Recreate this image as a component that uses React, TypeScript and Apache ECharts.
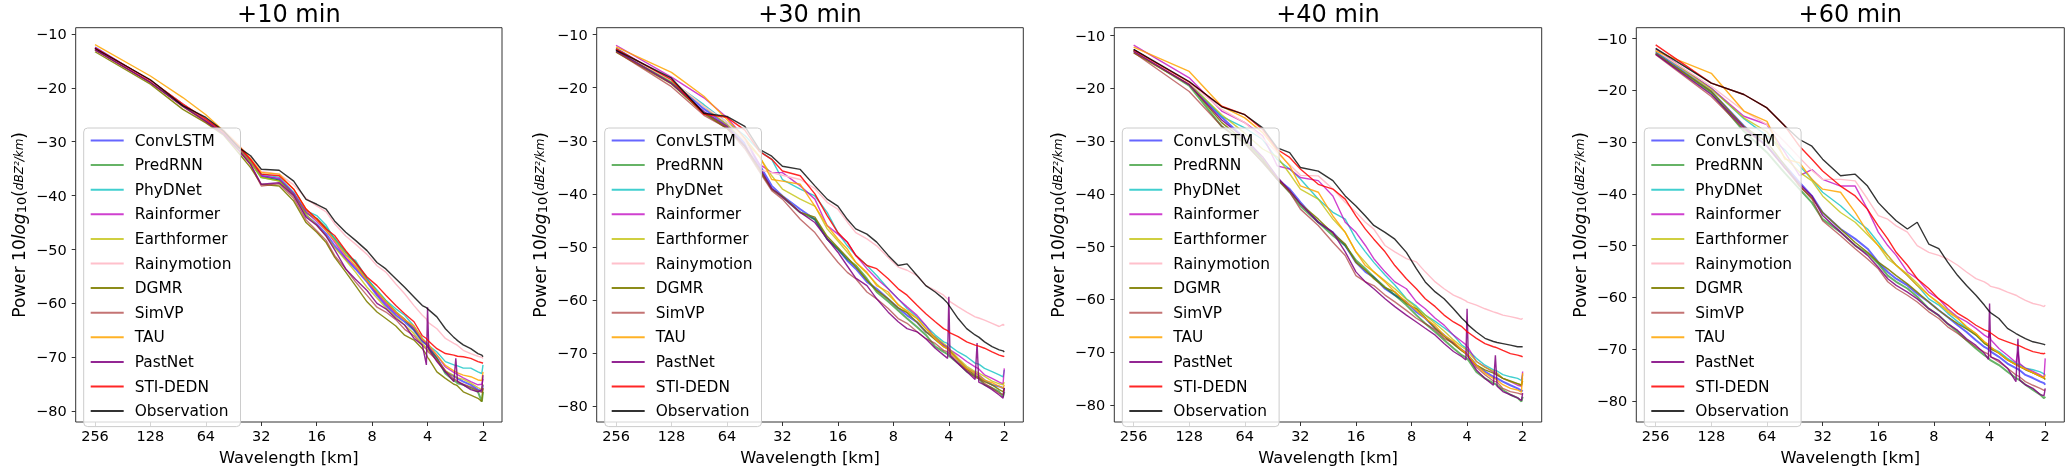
import React, { useEffect, useRef } from 'react';
import * as echarts from 'echarts';

// wavelength of each spectrum bin (256 / k km)
const WAVELENGTH_KM = [256, 128, 85.33, 64, 51.2, 42.67, 36.57, 32, 25.6, 21.33, 18.29, 16, 14.22, 12.8, 11.13, 9.85, 8.53, 7.53, 6.74, 5.95, 5.33, 4.74, 4.27, 4.06, 4, 3.94, 3.56, 3.2, 2.88, 2.81, 2.75, 2.56, 2.33, 2.13, 2.03, 2];

const HORIZONS = ['+10 min', '+30 min', '+40 min', '+60 min'];
const MODELS = ['ConvLSTM', 'PredRNN', 'PhyDNet', 'Rainformer', 'Earthformer', 'Rainymotion', 'DGMR', 'SimVP', 'TAU', 'PastNet', 'STI-DEDN', 'Observation'];
const X_TICKS = [256, 128, 64, 32, 16, 8, 4, 2];
const Y_TICKS = [-80, -70, -60, -50, -40, -30, -20, -10];

// +10 min
const convlstm10 = [-12.5, -18.8, -23.2, -26.0, -28.3, -31.0, -33.6, -36.3, -37.0, -39.6, -43.7, -45.3, -47.1, -49.3, -51.7, -53.6, -56.0, -58.5, -60.4, -62.2, -63.4, -65.0, -67.1, -67.6, -68.0, -68.3, -70.2, -72.7, -73.5, -73.7, -73.9, -74.5, -75.1, -76.0, -76.3, -75.1];
const predrnn10 = [-12.8, -18.9, -23.3, -26.1, -28.3, -31.2, -33.8, -36.6, -37.2, -39.8, -43.2, -44.3, -46.0, -48.0, -50.5, -52.5, -55.5, -57.8, -59.6, -61.6, -63.0, -64.8, -66.8, -67.5, -68.0, -68.2, -70.2, -73.0, -74.3, -74.5, -74.8, -75.1, -75.7, -76.4, -78.2, -76.4];
const phydnet10 = [-12.7, -18.7, -23.0, -26.0, -28.2, -31.0, -33.5, -36.0, -36.6, -39.4, -42.8, -43.7, -45.5, -48.0, -51.1, -52.0, -55.4, -57.5, -59.4, -61.0, -62.2, -64.2, -66.5, -67.3, -67.6, -67.8, -69.0, -70.8, -71.4, -71.5, -71.6, -72.0, -72.0, -72.7, -73.0, -71.4];
const rainformer10 = [-12.6, -18.7, -23.0, -26.0, -28.3, -31.0, -33.5, -36.3, -36.8, -39.6, -43.0, -44.8, -46.5, -48.6, -51.5, -53.2, -55.8, -58.2, -60.0, -61.8, -63.0, -64.6, -66.8, -67.5, -67.9, -68.1, -69.6, -71.8, -72.8, -73.0, -73.2, -73.8, -74.5, -75.1, -75.0, -74.0];
const earthformer10 = [-12.9, -19.0, -23.2, -26.2, -28.5, -31.3, -33.8, -36.6, -37.3, -40.0, -43.5, -45.5, -47.5, -49.6, -52.0, -54.2, -57.0, -59.0, -60.8, -62.5, -64.0, -65.6, -67.5, -68.2, -68.6, -68.8, -70.5, -72.5, -73.4, -73.6, -73.8, -74.1, -74.8, -75.6, -76.0, -75.0];
const rainymotion10 = [-12.8, -18.7, -23.0, -25.8, -27.8, -30.5, -33.0, -35.5, -36.0, -38.0, -40.5, -41.9, -43.0, -45.2, -47.5, -49.0, -50.9, -53.0, -54.2, -56.4, -58.2, -60.4, -62.2, -62.9, -63.4, -63.6, -64.7, -66.5, -67.4, -67.6, -67.8, -68.7, -69.3, -69.8, -70.0, -70.2];
const dgmr10 = [-13.3, -19.3, -24.0, -26.5, -28.8, -32.0, -34.8, -37.9, -38.2, -41.0, -45.0, -46.8, -48.7, -51.4, -54.2, -56.7, -59.7, -61.6, -62.8, -64.2, -65.9, -66.8, -68.4, -69.5, -70.0, -70.3, -72.7, -73.9, -75.0, -75.1, -75.3, -76.4, -77.0, -77.6, -78.2, -75.7];
const simvp10 = [-13.0, -19.0, -23.5, -26.3, -28.6, -31.5, -34.3, -38.2, -37.8, -40.5, -44.5, -46.5, -48.3, -51.1, -53.6, -56.0, -58.5, -60.7, -61.6, -63.0, -64.8, -66.0, -67.8, -68.5, -68.9, -69.1, -70.5, -72.5, -74.0, -74.2, -74.4, -75.0, -75.5, -76.2, -76.5, -75.8];
const tau10 = [-12.0, -17.8, -21.8, -25.0, -28.0, -30.6, -33.2, -35.7, -36.0, -38.8, -42.5, -44.5, -46.5, -48.3, -51.0, -53.0, -55.8, -57.8, -59.6, -61.6, -63.0, -64.2, -66.6, -67.2, -67.5, -67.7, -69.6, -71.5, -72.5, -72.7, -72.9, -73.3, -73.6, -74.2, -74.3, -72.7];
const pastnet10 = [-12.9, -19.0, -23.4, -26.2, -28.6, -31.5, -34.2, -37.9, -37.6, -40.0, -44.0, -45.5, -47.5, -50.0, -53.6, -55.5, -57.6, -60.0, -61.0, -62.8, -64.0, -66.5, -67.7, -71.4, -60.7, -68.5, -70.8, -72.7, -74.5, -70.2, -74.5, -75.1, -76.0, -76.4, -76.0, -73.3];
const stidedn10 = [-12.6, -18.6, -23.0, -25.8, -28.2, -30.8, -33.3, -36.0, -36.3, -38.8, -42.5, -44.3, -46.2, -47.4, -50.2, -52.4, -55.1, -56.7, -58.5, -60.4, -61.9, -63.4, -66.0, -66.5, -66.8, -67.0, -68.4, -69.3, -69.6, -69.7, -69.8, -69.9, -70.2, -70.8, -71.0, -71.1];
const observation10 = [-12.7, -18.5, -23.3, -25.5, -28.0, -31.0, -32.6, -35.1, -35.3, -37.3, -40.7, -41.6, -42.5, -44.7, -46.8, -48.3, -50.2, -52.4, -53.6, -55.4, -57.0, -58.8, -60.4, -60.8, -61.0, -61.2, -62.5, -64.7, -66.3, -66.6, -66.9, -67.7, -68.4, -69.3, -69.6, -69.9];

// +30 min
const convlstm30 = [-12.6, -18.8, -24.0, -27.0, -30.5, -34.5, -38.5, -40.4, -42.9, -44.8, -48.5, -50.4, -52.6, -54.1, -56.6, -57.9, -59.8, -61.5, -62.9, -64.2, -66.0, -67.0, -68.5, -69.0, -69.5, -69.7, -71.3, -72.9, -73.8, -74.0, -74.2, -75.1, -76.0, -76.3, -76.6, -76.5];
const predrnn30 = [-12.9, -19.0, -24.8, -27.6, -31.0, -35.4, -39.1, -40.6, -43.5, -44.8, -48.5, -50.4, -52.3, -53.5, -56.0, -58.5, -60.3, -62.0, -63.5, -65.1, -66.6, -68.8, -69.8, -70.2, -70.5, -70.7, -71.9, -73.5, -74.4, -74.6, -74.8, -76.0, -76.6, -77.3, -78.2, -77.3];
const phydnet30 = [-12.7, -18.8, -23.2, -26.5, -29.0, -31.9, -33.5, -37.3, -39.1, -40.4, -43.5, -47.3, -49.8, -51.6, -53.5, -55.4, -57.9, -59.8, -61.6, -63.2, -64.9, -66.6, -67.9, -68.2, -68.5, -68.7, -69.8, -70.7, -71.9, -72.0, -72.1, -72.9, -73.5, -74.1, -74.5, -73.2];
const rainformer30 = [-12.0, -18.0, -21.9, -25.6, -29.5, -34.4, -36.0, -36.0, -38.5, -41.0, -46.0, -47.6, -49.1, -51.6, -54.1, -56.0, -57.9, -59.8, -61.3, -62.9, -64.8, -67.3, -68.5, -68.8, -69.2, -69.4, -70.4, -71.6, -72.6, -72.8, -73.0, -74.1, -74.8, -75.5, -75.8, -72.9];
const earthformer30 = [-12.7, -18.8, -23.5, -27.0, -30.0, -33.0, -36.6, -39.1, -41.0, -42.3, -46.6, -48.9, -51.0, -52.9, -55.0, -57.0, -59.0, -60.8, -62.3, -63.5, -65.4, -67.0, -68.2, -68.8, -69.2, -69.4, -71.0, -72.5, -73.5, -73.6, -73.8, -74.4, -75.3, -75.8, -76.0, -75.5];
const rainymotion30 = [-12.8, -18.6, -23.5, -26.5, -30.0, -35.5, -36.0, -36.5, -37.3, -39.0, -41.6, -42.9, -45.3, -47.3, -48.5, -49.8, -52.0, -53.8, -54.4, -55.4, -57.3, -58.2, -59.1, -59.8, -60.0, -60.3, -61.3, -62.3, -63.2, -63.3, -63.4, -63.8, -64.4, -65.0, -64.6, -64.8];
const dgmr30 = [-13.3, -19.3, -24.8, -27.6, -31.0, -35.4, -39.1, -40.4, -43.5, -44.4, -48.0, -50.1, -52.0, -53.8, -56.3, -58.2, -59.8, -61.5, -62.4, -64.2, -66.0, -67.5, -68.8, -69.2, -69.5, -69.7, -71.3, -73.0, -74.2, -74.4, -74.6, -75.4, -76.0, -76.9, -77.3, -76.6];
const simvp30 = [-13.2, -19.8, -25.2, -27.6, -31.5, -35.8, -39.4, -41.0, -44.8, -47.3, -50.4, -52.9, -54.8, -56.0, -58.5, -59.8, -61.6, -63.5, -64.4, -66.0, -67.3, -68.2, -69.5, -69.8, -70.0, -70.2, -71.9, -73.2, -74.6, -74.7, -74.8, -75.7, -76.6, -77.6, -77.8, -76.6];
const tau30 = [-12.3, -17.1, -21.6, -26.0, -29.5, -32.9, -37.3, -37.6, -38.2, -42.3, -46.0, -48.5, -50.4, -52.9, -54.8, -57.3, -58.5, -61.0, -62.0, -63.5, -65.4, -67.3, -68.8, -69.2, -69.5, -69.8, -71.3, -72.9, -73.8, -74.0, -74.2, -75.1, -75.6, -76.3, -76.6, -76.0];
const pastnet30 = [-13.0, -19.2, -24.5, -27.3, -31.0, -35.0, -39.0, -40.6, -43.5, -45.4, -48.5, -51.0, -53.6, -55.9, -57.3, -59.8, -62.3, -64.1, -65.4, -66.0, -67.3, -69.1, -70.4, -71.0, -59.4, -70.5, -72.0, -73.5, -75.0, -68.1, -75.5, -76.0, -76.9, -77.9, -78.5, -76.6];
const stidedn30 = [-12.7, -18.5, -25.0, -25.6, -28.0, -32.0, -33.5, -35.7, -36.6, -40.0, -44.1, -47.3, -49.1, -51.6, -53.5, -54.1, -56.0, -57.9, -59.1, -61.0, -62.6, -64.1, -65.4, -65.8, -66.0, -66.2, -66.9, -67.9, -68.5, -68.6, -68.7, -69.1, -69.8, -70.4, -70.6, -70.7];
const observation30 = [-12.9, -18.2, -24.8, -25.4, -27.3, -31.6, -32.9, -34.8, -35.4, -38.5, -41.0, -42.3, -44.8, -46.6, -47.6, -49.1, -51.6, -53.5, -53.2, -55.4, -57.3, -58.5, -59.8, -60.6, -61.0, -61.3, -63.5, -65.4, -66.6, -66.8, -67.0, -67.9, -68.8, -69.4, -69.6, -69.8];

// +40 min
const convlstm40 = [-12.7, -19.2, -25.5, -29.5, -33.5, -37.2, -39.1, -41.6, -45.4, -47.3, -49.8, -53.0, -54.8, -55.8, -58.0, -59.2, -60.5, -62.4, -63.6, -65.5, -66.8, -68.3, -69.6, -70.2, -70.5, -70.7, -72.5, -73.7, -74.7, -74.9, -75.0, -75.6, -76.3, -76.9, -77.3, -77.5];
const predrnn40 = [-12.9, -19.5, -27.2, -30.3, -34.0, -37.2, -39.7, -42.3, -45.4, -47.9, -49.8, -52.6, -54.2, -55.8, -57.7, -59.2, -61.1, -63.0, -64.6, -66.2, -67.7, -69.3, -70.6, -71.0, -71.3, -71.5, -73.8, -75.0, -75.9, -76.1, -76.3, -77.2, -78.1, -78.7, -79.4, -78.5];
const phydnet40 = [-12.7, -19.0, -25.3, -27.5, -29.7, -33.5, -35.3, -37.2, -41.0, -43.5, -44.8, -48.6, -51.0, -53.0, -55.4, -57.3, -59.9, -61.3, -63.0, -64.2, -65.4, -66.8, -68.7, -69.2, -69.5, -69.7, -71.2, -72.5, -73.4, -73.5, -73.6, -74.3, -74.7, -75.0, -75.4, -74.3];
const rainformer40 = [-11.8, -18.0, -24.3, -26.5, -29.0, -34.7, -35.3, -36.9, -37.5, -40.4, -45.4, -47.3, -49.8, -52.3, -54.8, -56.7, -58.0, -60.5, -61.8, -63.6, -64.9, -66.8, -68.0, -68.6, -69.0, -69.2, -71.8, -72.8, -73.8, -74.0, -74.2, -75.0, -75.6, -76.3, -76.5, -73.7];
const earthformer40 = [-12.8, -19.2, -25.0, -28.5, -31.5, -33.0, -36.2, -39.1, -41.0, -44.8, -47.3, -51.0, -53.0, -54.8, -56.5, -58.0, -60.0, -61.6, -63.0, -64.6, -66.0, -67.7, -69.0, -69.5, -69.8, -70.0, -71.8, -72.9, -73.6, -73.8, -74.0, -75.0, -75.6, -76.0, -76.2, -75.0];
const rainymotion40 = [-12.8, -19.0, -24.0, -26.5, -29.5, -32.2, -34.5, -36.5, -36.6, -39.1, -41.6, -43.5, -45.4, -46.7, -49.8, -51.0, -52.3, -52.9, -54.8, -56.7, -58.0, -59.2, -59.9, -60.3, -60.5, -60.6, -61.1, -61.8, -62.4, -62.5, -62.6, -63.0, -63.3, -63.6, -63.8, -63.6];
const dgmr40 = [-13.3, -19.3, -26.5, -30.0, -33.5, -37.2, -39.4, -41.9, -44.8, -47.5, -49.5, -53.0, -54.5, -56.1, -57.8, -58.6, -60.8, -61.8, -63.5, -65.5, -67.0, -68.5, -69.8, -70.3, -70.6, -70.8, -72.5, -73.4, -74.0, -74.2, -74.4, -75.0, -75.5, -76.0, -76.3, -75.5];
const simvp40 = [-13.2, -20.6, -27.2, -30.5, -34.0, -37.2, -39.7, -42.9, -46.0, -49.2, -51.7, -55.5, -56.7, -57.4, -59.2, -60.5, -62.1, -63.6, -64.6, -65.8, -67.4, -68.3, -69.6, -70.1, -70.5, -70.7, -72.9, -74.3, -75.5, -75.6, -75.7, -76.9, -77.5, -77.8, -78.0, -77.8];
const tau40 = [-12.2, -16.8, -23.4, -25.6, -28.4, -31.9, -34.7, -38.5, -39.7, -44.2, -47.3, -51.0, -53.6, -54.8, -56.7, -58.6, -60.5, -62.1, -63.6, -65.0, -66.8, -68.0, -69.6, -70.2, -70.5, -70.7, -72.5, -74.0, -75.0, -75.1, -75.3, -76.2, -76.9, -77.2, -77.6, -74.0];
const pastnet40 = [-13.0, -19.3, -26.0, -29.5, -33.0, -36.8, -39.4, -41.9, -45.4, -47.3, -51.0, -54.8, -56.7, -58.0, -59.9, -61.4, -63.0, -64.3, -65.5, -66.8, -68.4, -69.9, -70.9, -71.5, -61.8, -71.0, -73.4, -75.0, -76.3, -70.6, -76.5, -77.5, -78.1, -78.7, -79.2, -77.8];
const stidedn40 = [-12.7, -18.8, -23.4, -25.0, -27.8, -31.6, -33.1, -35.3, -38.2, -39.1, -41.0, -44.2, -46.7, -48.6, -51.0, -53.6, -56.1, -58.0, -59.9, -61.4, -63.0, -64.3, -65.2, -65.9, -66.2, -66.3, -67.4, -68.4, -69.0, -69.1, -69.2, -69.7, -70.3, -70.6, -70.8, -70.9];
const observation40 = [-12.6, -18.7, -23.5, -25.0, -27.5, -31.3, -32.2, -35.0, -35.7, -37.5, -40.4, -42.3, -44.2, -46.0, -47.3, -48.6, -51.1, -54.2, -56.7, -58.6, -59.9, -61.8, -63.6, -64.3, -64.6, -64.9, -66.2, -67.4, -68.0, -68.1, -68.2, -68.4, -68.7, -69.0, -69.0, -69.0];

// +60 min
const convlstm60 = [-12.5, -20.2, -26.9, -30.8, -34.5, -37.8, -40.4, -43.6, -46.8, -48.7, -50.6, -53.2, -55.1, -56.4, -57.7, -59.3, -60.9, -62.5, -63.8, -65.4, -66.7, -68.3, -69.6, -70.0, -70.3, -70.5, -71.5, -72.8, -73.7, -73.9, -74.1, -75.0, -75.6, -76.3, -76.6, -76.9];
const predrnn60 = [-12.8, -20.5, -27.9, -32.0, -36.0, -39.1, -41.7, -44.9, -47.4, -50.0, -51.5, -53.5, -55.8, -57.0, -58.3, -59.9, -62.2, -63.5, -65.1, -66.7, -68.3, -69.9, -71.2, -71.7, -72.0, -72.2, -73.1, -74.4, -75.6, -75.8, -76.0, -76.9, -77.9, -78.8, -79.5, -79.2];
const phydnet60 = [-12.3, -19.6, -25.5, -28.8, -31.5, -34.6, -37.2, -39.7, -42.3, -44.9, -46.8, -49.4, -51.9, -53.8, -55.8, -57.7, -60.3, -61.5, -63.1, -64.7, -65.9, -67.3, -68.9, -69.4, -69.6, -69.8, -70.5, -71.8, -72.8, -72.9, -73.0, -73.7, -74.0, -74.4, -74.8, -75.0];
const rainformer60 = [-12.0, -19.6, -25.0, -26.6, -32.0, -36.5, -35.3, -37.2, -38.5, -38.5, -43.0, -47.4, -50.0, -51.9, -55.1, -56.4, -59.0, -60.3, -62.2, -63.8, -64.7, -66.0, -67.3, -67.8, -66.7, -68.2, -69.9, -71.2, -72.6, -70.5, -72.8, -73.7, -74.3, -75.0, -75.5, -71.8];
const earthformer60 = [-12.2, -19.8, -25.3, -28.0, -33.0, -35.8, -37.5, -40.4, -43.6, -45.5, -47.9, -50.0, -52.6, -53.8, -55.5, -57.3, -59.6, -61.0, -62.5, -64.0, -65.7, -67.0, -68.6, -69.2, -69.5, -69.7, -70.8, -72.1, -73.0, -73.1, -73.3, -73.9, -74.6, -75.2, -75.6, -75.8];
const rainymotion60 = [-12.3, -19.2, -24.0, -26.6, -30.0, -33.0, -35.5, -37.2, -37.2, -37.5, -41.0, -44.2, -44.9, -46.2, -47.4, -50.0, -51.3, -51.9, -52.6, -53.8, -55.1, -56.4, -57.0, -57.5, -57.7, -57.9, -58.3, -59.0, -59.6, -59.8, -60.0, -60.6, -61.2, -61.5, -61.8, -61.5];
const dgmr60 = [-12.9, -20.2, -27.0, -30.0, -34.5, -38.5, -40.8, -43.6, -46.8, -49.4, -51.3, -53.2, -54.5, -55.8, -57.4, -59.0, -60.9, -62.5, -63.8, -65.1, -66.1, -67.3, -68.9, -69.4, -69.8, -70.0, -70.8, -72.1, -73.0, -73.2, -73.4, -74.0, -74.6, -75.3, -75.6, -75.9];
const simvp60 = [-13.1, -21.2, -27.5, -30.8, -35.0, -38.5, -41.0, -45.2, -48.1, -50.6, -52.6, -54.5, -57.0, -58.3, -59.6, -60.9, -62.8, -64.1, -65.7, -67.0, -68.3, -69.6, -70.6, -71.0, -71.3, -71.5, -72.5, -73.7, -75.0, -75.2, -75.4, -76.3, -77.0, -77.6, -78.0, -77.9];
const tau60 = [-12.4, -16.7, -24.0, -26.0, -33.3, -34.0, -37.2, -39.1, -39.7, -43.6, -47.4, -50.0, -51.9, -53.8, -55.8, -57.7, -59.6, -61.2, -62.8, -64.1, -65.7, -67.0, -68.6, -69.1, -69.4, -69.6, -70.8, -72.1, -73.0, -73.2, -73.4, -73.9, -74.6, -75.3, -75.6, -75.0];
const pastnet60 = [-13.0, -20.8, -27.2, -30.8, -35.0, -38.1, -40.4, -44.2, -47.4, -50.0, -51.9, -54.2, -56.4, -57.7, -59.0, -60.3, -62.2, -63.5, -65.1, -66.4, -68.0, -69.3, -70.8, -72.0, -61.2, -71.5, -72.2, -73.7, -76.3, -68.0, -76.0, -76.9, -77.6, -78.8, -79.0, -77.6];
const stidedn60 = [-11.2, -18.6, -20.8, -23.4, -26.9, -30.8, -33.3, -35.6, -38.5, -40.4, -43.0, -46.2, -48.7, -51.3, -53.8, -56.4, -58.3, -60.3, -61.5, -63.1, -64.1, -65.4, -66.3, -66.6, -66.7, -66.9, -68.0, -68.6, -69.2, -69.3, -69.4, -69.9, -70.5, -70.8, -70.9, -70.8];
const observation60 = [-11.9, -18.6, -20.8, -23.4, -26.9, -29.5, -30.8, -33.3, -36.5, -36.2, -38.5, -41.7, -43.6, -45.2, -46.8, -45.5, -49.7, -50.6, -53.2, -55.8, -57.7, -59.6, -61.5, -62.5, -62.8, -63.0, -64.1, -66.0, -67.0, -67.2, -67.4, -68.0, -68.6, -68.9, -69.1, -69.2];

const SPECTRA = [
  [convlstm10, predrnn10, phydnet10, rainformer10, earthformer10, rainymotion10, dgmr10, simvp10, tau10, pastnet10, stidedn10, observation10],
  [convlstm30, predrnn30, phydnet30, rainformer30, earthformer30, rainymotion30, dgmr30, simvp30, tau30, pastnet30, stidedn30, observation30],
  [convlstm40, predrnn40, phydnet40, rainformer40, earthformer40, rainymotion40, dgmr40, simvp40, tau40, pastnet40, stidedn40, observation40],
  [convlstm60, predrnn60, phydnet60, rainformer60, earthformer60, rainymotion60, dgmr60, simvp60, tau60, pastnet60, stidedn60, observation60],
];

const COLORS = [
  'rgba(0,0,255,0.6)', 'rgba(0,128,0,0.6)', 'rgba(0,191,191,0.75)', 'rgba(191,0,191,0.75)',
  'rgba(191,191,0,0.75)', 'rgba(255,192,203,1)', 'rgba(128,128,0,0.9)', 'rgba(165,42,42,0.65)',
  'rgba(255,165,0,0.85)', 'rgba(128,0,128,0.85)', 'rgba(255,0,0,0.85)', 'rgba(0,0,0,0.8)',
];
const WIDTHS = [2, 2, 1.4, 1.4, 1.4, 1.4, 1.4, 1.4, 1.4, 1.4, 1.4, 1.4];

// panel frames in page pixels
const GRID_LEFT = [75.7, 596.7, 1114.3, 1636.3];
const GRID_WIDTH = [426.3, 426.6, 427.4, 428];
const GRID_TOP = 27.7;
const GRID_HEIGHT = 396.3;
const Y_RANGE = [[-82.0, -8.84], [-83.0, -8.69], [-83.27, -8.5], [-84.1, -7.89]];

const FONT = 'DejaVu Sans';

const App: React.FC = () => {
  const chartRef = useRef<HTMLDivElement>(null);

  useEffect(() => {
    if (!chartRef.current) return;
    const chart = echarts.init(chartRef.current, null, { renderer: 'svg' });
    const panels = [0, 1, 2, 3];

    const option = {
      animation: false,
      title: panels.map((p) => ({
        text: HORIZONS[p],
        left: GRID_LEFT[p] + GRID_WIDTH[p] / 2,
        top: 2,
        textAlign: 'center',
        padding: 0,
        textStyle: { fontSize: 24, fontWeight: 'normal', color: '#000', fontFamily: FONT },
      })),
      grid: panels.map((p) => ({
        left: GRID_LEFT[p],
        top: GRID_TOP,
        width: GRID_WIDTH[p],
        height: GRID_HEIGHT,
        show: true,
        borderColor: '#333',
        borderWidth: 1,
        backgroundColor: 'transparent',
      })),
      xAxis: panels.map((p) => ({
        type: 'log',
        logBase: 2,
        gridIndex: p,
        inverse: true,
        min: 1.577,
        max: 325.9,
        axisLine: { show: false },
        splitLine: { show: false },
        axisTick: { show: true, length: 4, lineStyle: { color: '#333' }, customValues: X_TICKS },
        axisLabel: {
          customValues: X_TICKS,
          margin: 6,
          fontSize: 14.5,
          color: '#000',
          fontFamily: FONT,
          formatter: (v: number) => String(Math.round(v)),
        },
        name: 'Wavelength [km]',
        nameLocation: 'middle',
        nameGap: 27,
        nameTextStyle: { fontSize: 16.3, color: '#000', fontFamily: FONT },
      })),
      yAxis: panels.map((p) => ({
        type: 'value',
        gridIndex: p,
        min: Y_RANGE[p][0],
        max: Y_RANGE[p][1],
        axisLine: { show: false },
        splitLine: { show: false },
        axisTick: { show: true, length: 4, lineStyle: { color: '#333' }, customValues: Y_TICKS },
        axisLabel: {
          customValues: Y_TICKS,
          margin: 9,
          fontSize: 14.5,
          color: '#000',
          fontFamily: FONT,
          formatter: (v: number) => (v < 0 ? '\u2212' + Math.abs(v) : String(v)),
        },
        name: '{p|Power 10}{i|log}{s|10}{p|(}{f|dBZ\u00b2/km}{p|)}',
        nameLocation: 'middle',
        nameRotate: 90,
        nameGap: 48,
        nameTextStyle: {
          fontSize: 17,
          color: '#000',
          fontFamily: FONT,
          rich: {
            p: { fontSize: 17, color: '#000', fontFamily: FONT },
            i: { fontSize: 17, fontStyle: 'italic', color: '#000', fontFamily: FONT },
            s: { fontSize: 13, color: '#000', fontFamily: FONT, verticalAlign: 'bottom' },
            f: { fontSize: 12, fontStyle: 'italic', color: '#000', fontFamily: FONT },
          },
        },
      })),
      legend: panels.map((p) => ({
        data: MODELS,
        orient: 'vertical',
        left: GRID_LEFT[p] + 8,
        top: 128,
        itemWidth: 33,
        itemHeight: 14,
        itemGap: 9.6,
        padding: [5, 9, 8, 6],
        backgroundColor: 'rgba(255,255,255,0.8)',
        borderColor: '#cccccc',
        borderWidth: 1,
        borderRadius: 4,
        selectedMode: false,
        z: 5,
        itemStyle: { opacity: 0 },
        textStyle: { fontSize: 15.4, color: '#000', fontFamily: FONT, padding: [0, 0, 0, 6] },
      })),
      series: panels.flatMap((p) =>
        MODELS.map((name, m) => ({
          name,
          type: 'line',
          xAxisIndex: p,
          yAxisIndex: p,
          data: SPECTRA[p][m].map((v, j) => [WAVELENGTH_KM[j], v]),
          symbol: 'none',
          showSymbol: false,
          silent: true,
          color: COLORS[m],
          lineStyle: { width: WIDTHS[m], color: COLORS[m] },
        }))
      ),
    };

    chart.setOption(option);
    return () => chart.dispose();
  }, []);

  return <div ref={chartRef} style={{ position: 'fixed', left: 0, top: 0, width: 2066, height: 470 }} />;
};

export default App;
